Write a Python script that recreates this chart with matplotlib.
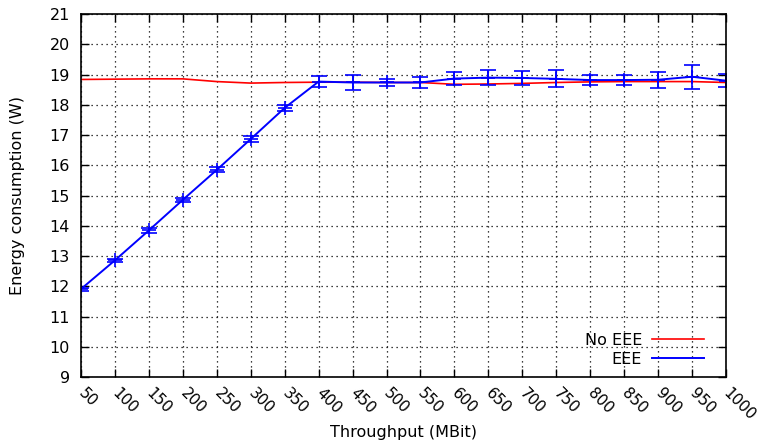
import matplotlib
matplotlib.use("Agg")
import matplotlib.pyplot as plt
from matplotlib.lines import Line2D

# throughput (MBit)
throughput = [50, 100, 150, 200, 250, 300, 350, 400, 450, 500,
              550, 600, 650, 700, 750, 800, 850, 900, 950, 1000]

# energy without EEE
no_eee = [18.84, 18.85, 18.86, 18.86, 18.77, 18.72, 18.74, 18.75, 18.75, 18.74,
          18.74, 18.68, 18.69, 18.71, 18.74, 18.76, 18.77, 18.77, 18.77, 18.74]

# energy with EEE + error
eee = [11.91, 12.86, 13.85, 14.86, 15.85, 16.87, 17.90, 18.77, 18.74, 18.74,
       18.74, 18.87, 18.90, 18.89, 18.86, 18.82, 18.82, 18.83, 18.93, 18.80]
eee_err = [0.05, 0.05, 0.08, 0.06, 0.08, 0.09, 0.10, 0.17, 0.25, 0.13,
           0.17, 0.21, 0.24, 0.23, 0.28, 0.17, 0.17, 0.26, 0.39, 0.22]

plt.rcParams["font.family"] = "DejaVu Sans"
plt.rcParams["font.size"] = 11.5

fig = plt.figure(figsize=(7.57, 4.42), dpi=100)
ax = fig.add_axes([0.107, 0.147, 0.852, 0.821])

ax.plot(throughput, no_eee, color="red", lw=1.2)
ax.errorbar(throughput, eee, yerr=eee_err, color="blue", lw=1.4,
            marker="+", ms=10, mew=1.2, capsize=6, elinewidth=1.2, capthick=1.2)

ax.set_xlim(50, 1000)
ax.set_ylim(9, 21)
ax.set_xticks(throughput)
ax.set_yticks(range(9, 22))
ax.set_xticklabels([str(t) for t in throughput], rotation=-45,
                   ha="left", va="center", rotation_mode="anchor")
ax.tick_params(direction="in", top=True, right=True, length=6, width=1)
ax.tick_params(axis="x", pad=10, labelsize=11)
ax.tick_params(axis="y", pad=8)
ax.grid(True, color="black", ls=(0, (1, 3)), lw=0.9)
for s in ax.spines.values():
    s.set_linewidth(1.2)

ax.set_xlabel("Throughput (MBit)", va="center")
ax.xaxis.set_label_coords(0.5, -0.152)
ax.set_ylabel("Energy consumption (W)", va="center")
ax.yaxis.set_label_coords(-0.099, 0.5)

handles = [Line2D([], [], color="red", lw=1.2), Line2D([], [], color="blue", lw=1.4)]
ax.legend(handles, ["No EEE", "EEE"], loc="lower right", frameon=False,
          bbox_to_anchor=(1.0, -0.033),
          markerfirst=False, handlelength=3.2, fontsize=11.5,
          borderaxespad=1.0, labelspacing=0.25, handletextpad=0.65)

plt.savefig("out.png", dpi=100)
